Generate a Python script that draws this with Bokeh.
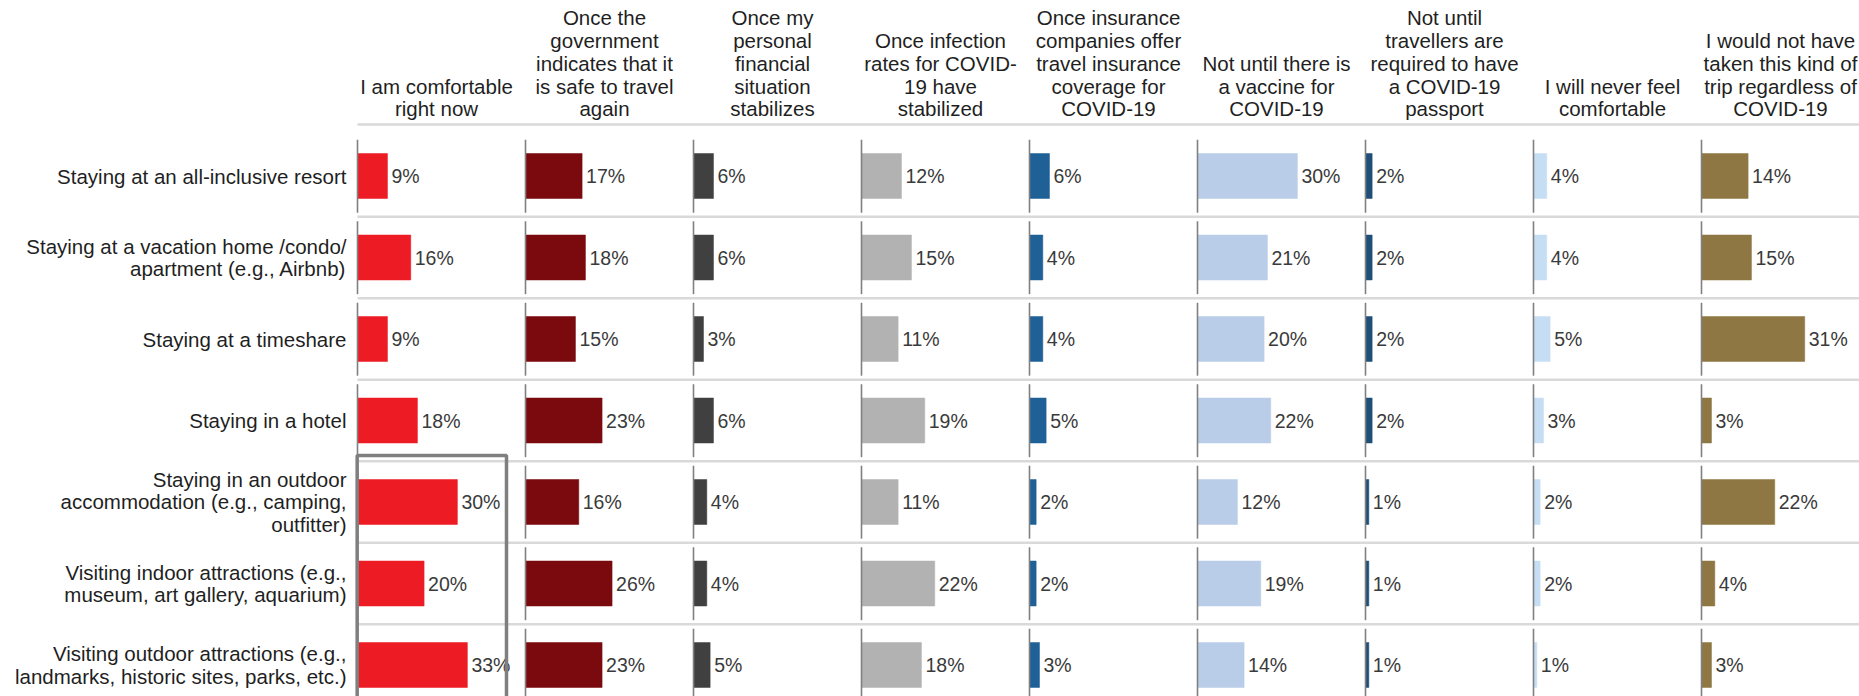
from bokeh.plotting import figure
from bokeh.models import Range1d, ColumnDataSource
from bokeh.core.properties import value
from bokeh.embed import file_html
from bokeh.resources import INLINE

# ---------------- data ----------------
activities = [
    "Staying at an all-inclusive resort",
    "Staying at a vacation home /condo/\napartment (e.g., Airbnb)",
    "Staying at a timeshare",
    "Staying in a hotel",
    "Staying in an outdoor\naccommodation (e.g., camping,\noutfitter)",
    "Visiting indoor attractions (e.g.,\nmuseum, art gallery, aquarium)",
    "Visiting outdoor attractions (e.g.,\nlandmarks, historic sites, parks, etc.)",
]

conditions = [
    "I am comfortable\nright now",
    "Once the\ngovernment\nindicates that it\nis safe to travel\nagain",
    "Once my\npersonal\nfinancial\nsituation\nstabilizes",
    "Once infection\nrates for COVID-\n19 have\nstabilized",
    "Once insurance\ncompanies offer\ntravel insurance\ncoverage for\nCOVID-19",
    "Not until there is\na vaccine for\nCOVID-19",
    "Not until\ntravellers are\nrequired to have\na COVID-19\npassport",
    "I will never feel\ncomfortable",
    "I would not have\ntaken this kind of\ntrip regardless of\nCOVID-19",
]

# one list per condition (column), values per activity (row), in %
comfortable_now   = [9, 16, 9, 18, 30, 20, 33]
government_safe   = [17, 18, 15, 23, 16, 26, 23]
finances_stable   = [6, 6, 3, 6, 4, 4, 5]
infection_stable  = [12, 15, 11, 19, 11, 22, 18]
insurance_offered = [6, 4, 4, 5, 2, 2, 3]
vaccine           = [30, 21, 20, 22, 12, 19, 14]
covid_passport    = [2, 2, 2, 2, 1, 1, 1]
never_comfortable = [4, 4, 5, 3, 2, 2, 1]
would_not_travel  = [14, 15, 31, 3, 22, 4, 3]

series = [comfortable_now, government_safe, finances_stable, infection_stable,
          insurance_offered, vaccine, covid_passport, never_comfortable, would_not_travel]

colors = ["#ED1C24", "#7B0A0E", "#404040", "#B2B2B2", "#1F6096",
          "#B9CDE9", "#1F4E79", "#C6DEF4", "#8E7743"]

# ---------------- layout constants ----------------
W, H = 1859, 696
PX_PER_PCT = 3.33
ROW_PX = 81.5
COL_STEP = 168.0 / PX_PER_PCT
X0 = -357.0 / PX_PER_PCT
Y_TOP = -175.5 / ROW_PX
n_rows = len(activities)
n_cols = len(conditions)

FONT = "Liberation Sans"
TXT = "#1F1F1F"
VAL = "#3A3A3A"

p = figure(width=W, height=H, output_backend="svg", toolbar_location=None,
           x_range=Range1d(X0, X0 + W / PX_PER_PCT),
           y_range=Range1d(Y_TOP + H / ROW_PX, Y_TOP),
           x_axis_location=None, y_axis_location=None,
           min_border=0, outline_line_color=None, tools="")
p.xgrid.visible = False
p.ygrid.visible = False
p.background_fill_color = "white"
p.border_fill_color = "white"

x_right = X0 + W / PX_PER_PCT

# header line and row separators
p.segment(x0=[0], x1=[x_right], y0=[-0.632], y1=[-0.632],
          line_color="#D9D9D9", line_width=2.5)
sep_y = [i + 0.5 for i in range(n_rows - 1)]
p.segment(x0=[0] * len(sep_y), x1=[x_right] * len(sep_y), y0=sep_y, y1=sep_y,
          line_color="#D9D9D9", line_width=2.5)

# bars
for c, vals in enumerate(series):
    base = c * COL_STEP
    rows = list(range(n_rows))
    src = ColumnDataSource(dict(
        y=rows,
        left=[base] * n_rows,
        right=[base + v for v in vals],
        lx=[base + v + 1.2 for v in vals],
        lab=[f"{v}%" for v in vals],
    ))
    p.hbar(y="y", left="left", right="right", height=0.552, source=src,
           fill_color=colors[c], line_color=colors[c], line_width=0.5)
    p.text(x="lx", y="y", text="lab", source=src, text_font=value(FONT),
           text_font_size="19.5px", text_color=VAL, text_align="left",
           text_baseline="middle")
    # per-row axis line segments
    p.segment(x0=[base] * n_rows, x1=[base] * n_rows,
              y0=[r - 0.445 for r in rows], y1=[r + 0.45 for r in rows],
              line_color="#808080", line_width=1.6)

# column headers
hsrc = ColumnDataSource(dict(
    x=[c * COL_STEP + 79.0 / PX_PER_PCT for c in range(n_cols)],
    y=[-0.681] * n_cols,
    t=conditions,
))
p.text(x="x", y="y", text="t", source=hsrc, text_font=value(FONT),
       text_font_size="20.5px", text_color=TXT, text_align="center",
       text_baseline="bottom", text_line_height=0.99)

# row labels
rsrc = ColumnDataSource(dict(
    x=[-11.0 / PX_PER_PCT] * n_rows,
    y=list(range(n_rows)),
    t=activities,
))
p.text(x="x", y="y", text="t", source=rsrc, text_font=value(FONT),
       text_font_size="20.5px", text_color=TXT, text_align="right",
       text_baseline="middle", text_line_height=0.99)

# highlight box around first column, last three rows
p.quad(left=[-0.1], right=[149.0 / PX_PER_PCT], top=[3.43], bottom=[6.6],
       fill_color=None, line_color="#7F7F7F", line_width=3.5)

open("out.html", "w").write(file_html(p, INLINE))
